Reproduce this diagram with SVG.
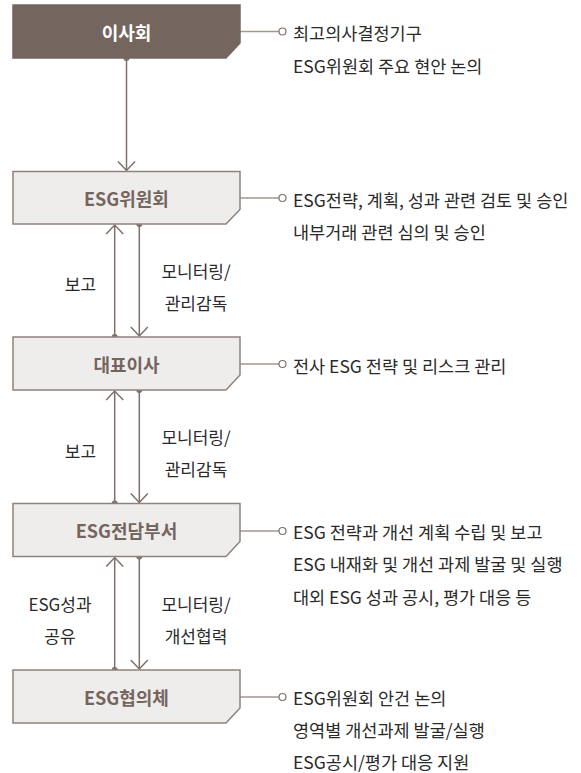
<svg xmlns="http://www.w3.org/2000/svg" width="581" height="773" viewBox="0 0 581 773">
<style>
.box{fill:#efedeb;stroke:#8e827d;stroke-width:1.5}
.box1{fill:#74665f;stroke:#74665f;stroke-width:1.5}
.bt{font-family:"Noto Sans CJK KR","Noto Sans",sans-serif;font-size:18px;font-weight:700;fill:#74665f;text-anchor:middle;dominant-baseline:central}
.bt1{fill:#ffffff}
.rt{font-family:"Noto Sans CJK KR","Noto Sans",sans-serif;font-size:17.5px;fill:#2a2a2a;dominant-baseline:central}
.lt{font-family:"Noto Sans CJK KR","Noto Sans",sans-serif;font-size:17px;fill:#2a2a2a;text-anchor:middle;dominant-baseline:central}
.ln{stroke:#7d706b;stroke-width:1.5;fill:none}
.rl{stroke:#a39794;stroke-width:1.3;fill:none}
.rc{fill:#ffffff;stroke:#7d706b;stroke-width:1.2}
.dot{fill:#7d706b}
</style>

<g id="connectors">
  <!-- board -> committee -->
  <line class="ln" x1="126.5" y1="58" x2="126.5" y2="170.5"/>
  <circle class="dot" cx="126.5" cy="58" r="3"/>
  <polyline class="ln" points="118,161.5 126.5,170.5 135,161.5"/>

  <!-- committee <-> CEO -->
  <line class="ln" x1="114.7" y1="225" x2="114.7" y2="337"/>
  <circle class="dot" cx="114.7" cy="337" r="3"/>
  <polyline class="ln" points="106.2,234 114.7,225 123.2,234"/>
  <line class="ln" x1="139.3" y1="224" x2="139.3" y2="336"/>
  <circle class="dot" cx="139.3" cy="224" r="3"/>
  <polyline class="ln" points="130.8,327 139.3,336 147.8,327"/>

  <!-- CEO <-> ESG dept -->
  <line class="ln" x1="114.7" y1="391" x2="114.7" y2="503.5"/>
  <circle class="dot" cx="114.7" cy="503.5" r="3"/>
  <polyline class="ln" points="106.2,400 114.7,391 123.2,400"/>
  <line class="ln" x1="139.3" y1="390" x2="139.3" y2="502.5"/>
  <circle class="dot" cx="139.3" cy="390" r="3"/>
  <polyline class="ln" points="130.8,493.5 139.3,502.5 147.8,493.5"/>

  <!-- ESG dept <-> council -->
  <line class="ln" x1="114.7" y1="557.5" x2="114.7" y2="670"/>
  <circle class="dot" cx="114.7" cy="670" r="3"/>
  <polyline class="ln" points="106.2,566.5 114.7,557.5 123.2,566.5"/>
  <line class="ln" x1="139.3" y1="556.5" x2="139.3" y2="669"/>
  <circle class="dot" cx="139.3" cy="556.5" r="3"/>
  <polyline class="ln" points="130.8,660 139.3,669 147.8,660"/>

  <!-- right leaders -->
  <line class="rl" x1="240" y1="31.5" x2="279" y2="31.5"/>
  <circle class="rc" cx="282.5" cy="31.5" r="3.5"/>
  <line class="rl" x1="240" y1="198" x2="279" y2="198"/>
  <circle class="rc" cx="282.5" cy="198" r="3.5"/>
  <line class="rl" x1="240" y1="364" x2="279" y2="364"/>
  <circle class="rc" cx="282.5" cy="364" r="3.5"/>
  <line class="rl" x1="240" y1="531" x2="279" y2="531"/>
  <circle class="rc" cx="282.5" cy="531" r="3.5"/>
  <line class="rl" x1="240" y1="697" x2="279" y2="697"/>
  <circle class="rc" cx="282.5" cy="697" r="3.5"/>

  <!-- flow labels -->
  <text class="lt" x="80.5" y="283">보고</text>
  <text class="lt" x="196" y="270">모니터링/</text>
  <text class="lt" x="196" y="302">관리감독</text>
  <text class="lt" x="80.5" y="450">보고</text>
  <text class="lt" x="196" y="436">모니터링/</text>
  <text class="lt" x="196" y="468">관리감독</text>
  <text class="lt" x="60" y="603">ESG성과</text>
  <text class="lt" x="60" y="635">공유</text>
  <text class="lt" x="196" y="603">모니터링/</text>
  <text class="lt" x="196" y="635">개선협력</text>
</g>

<g id="board">
  <polygon class="box1" points="13,5 240,5 240,43 226,58 13,58"/>
  <text class="bt bt1" x="126.5" y="31.5">이사회</text>
  <text class="rt" x="293" y="32.5">최고의사결정기구</text>
  <text class="rt" x="293" y="65.5">ESG위원회 주요 현안 논의</text>
</g>

<g id="committee">
  <polygon class="box" points="13,171.5 240,171.5 240,209.5 226,224 13,224"/>
  <text class="bt" x="126.5" y="198">ESG위원회</text>
  <text class="rt" x="293" y="199">ESG전략, 계획, 성과 관련 검토 및 승인</text>
  <text class="rt" x="293" y="231">내부거래 관련 심의 및 승인</text>
</g>

<g id="ceo">
  <polygon class="box" points="13,337 240,337 240,375 226,390 13,390"/>
  <text class="bt" x="126.5" y="363.5">대표이사</text>
  <text class="rt" x="293" y="365">전사 ESG 전략 및 리스크 관리</text>
</g>

<g id="esgdept">
  <polygon class="box" points="13,503.5 240,503.5 240,541.5 226,556.5 13,556.5"/>
  <text class="bt" x="126.5" y="530">ESG전담부서</text>
  <text class="rt" x="293" y="531">ESG 전략과 개선 계획 수립 및 보고</text>
  <text class="rt" x="293" y="563.5">ESG 내재화 및 개선 과제 발굴 및 실행</text>
  <text class="rt" x="293" y="596">대외 ESG 성과 공시, 평가 대응 등</text>
</g>

<g id="council">
  <polygon class="box" points="13,670 240,670 240,708 226,723 13,723"/>
  <text class="bt" x="126.5" y="696.5">ESG협의체</text>
  <text class="rt" x="293" y="697.5">ESG위원회 안건 논의</text>
  <text class="rt" x="293" y="729.5">영역별 개선과제 발굴/실행</text>
  <text class="rt" x="293" y="761.5">ESG공시/평가 대응 지원</text>
</g>
</svg>
